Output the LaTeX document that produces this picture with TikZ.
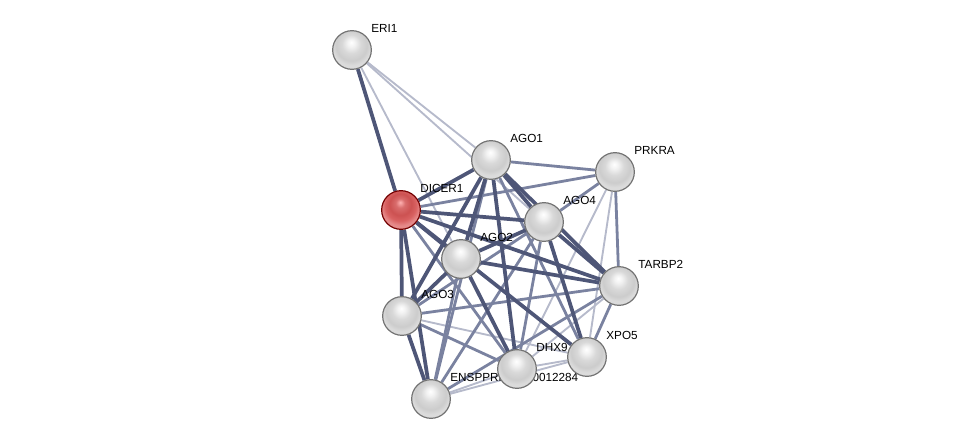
\documentclass[tikz,border=0pt]{standalone}
\usepackage{fontspec}
\setmainfont{Liberation Sans}
\usetikzlibrary{backgrounds}
\pgfdeclareradialshading{greyball}{\pgfpoint{-1bp}{10bp}}{color(0bp)=(white); color(5bp)=(white!95!black); color(12bp)=(white!85!black); color(20bp)=(white!80!black); color(25bp)=(white!86!black); color(50bp)=(white!86!black)}
\pgfdeclareradialshading{redball}{\pgfpoint{-1bp}{10bp}}{color(0bp)=(white!70!red); color(6bp)=(red!50!white!85!black); color(14bp)=(red!60!white!80!black); color(20bp)=(red!55!white!85!black); color(25bp)=(red!40!white!90!black); color(50bp)=(red!40!white!90!black)}
\tikzset{
  prot/.style={circle, minimum size=29pt, inner sep=0pt, draw=black!55, line width=0.9pt, shading=greyball},
  seed/.style={prot, draw=red!45!black, shading=redball},
  tag/.style={font=\fontsize{8.8}{10}\selectfont, inner sep=0.5pt, xshift=1.5pt},
  hi/.style={draw=edgedark, line width=2.8pt},
  mid/.style={draw=edgemid, line width=2.1pt},
  lo/.style={draw=edgelight, line width=1.4pt},
}
\definecolor{edgedark}{HTML}{4E5677}
\definecolor{edgemid}{HTML}{7A82A0}
\definecolor{edgelight}{HTML}{B6BACB}
\begin{document}
\begin{tikzpicture}[x=0.75pt, y=-0.75pt, label distance=2.5pt]
\useasboundingbox (0,0) rectangle (976,445);

\node[prot, label={[tag]45:ERI1}] (eri) at (352,50) {};
\node[prot, label={[tag]45:AGO1}] (ago1) at (491,160) {};
\node[prot, label={[tag]45:PRKRA}] (prkra) at (615,172) {};
\node[seed, label={[tag]45:DICER1}] (dicer) at (401,210) {};
\node[prot, label={[tag]45:AGO4}] (ago4) at (544,222) {};
\node[prot, label={[tag]45:AGO2}] (ago2) at (461,259) {};
\node[prot, label={[tag]45:TARBP2}] (tarbp) at (619,286) {};
\node[prot, label={[tag]45:AGO3}] (ago3) at (402,316) {};
\node[prot, label={[tag]45:ENSPPRP00000012284}] (ensp) at (431,399) {};
\node[prot, label={[tag]45:XPO5}] (xpo) at (587,357) {};
\node[prot, label={[tag]45:DHX9}] (dhx) at (517,369) {};

\begin{pgfonlayer}{background}
\foreach \a/\b in {eri/ago1, eri/ago4, eri/ago2, prkra/xpo, prkra/dhx, tarbp/dhx, xpo/dhx, dhx/ensp, xpo/ensp, ago3/xpo}
  \draw[lo] (\a) -- (\b);
\foreach \a/\b in {dicer/prkra, ago1/prkra, ago4/prkra, prkra/tarbp, tarbp/xpo, ago3/tarbp, ago1/xpo, ago1/ensp, ago2/ensp, ago4/ago3, ago4/ensp, ago4/dhx, dicer/dhx, ago3/dhx, tarbp/ensp}
  \draw[mid] (\a) -- (\b);
\foreach \a/\b in {dicer/eri, dicer/ago1, dicer/ago4, dicer/ago2, dicer/ago3, dicer/tarbp, dicer/xpo, dicer/ensp, ago1/ago4, ago1/ago2, ago1/ago3, ago1/tarbp, ago1/dhx, ago4/ago2, ago4/tarbp, ago4/xpo, ago2/tarbp, ago2/ago3, ago2/dhx, ago3/ensp}
  \draw[hi] (\a) -- (\b);
\end{pgfonlayer}
\end{tikzpicture}
\end{document}
